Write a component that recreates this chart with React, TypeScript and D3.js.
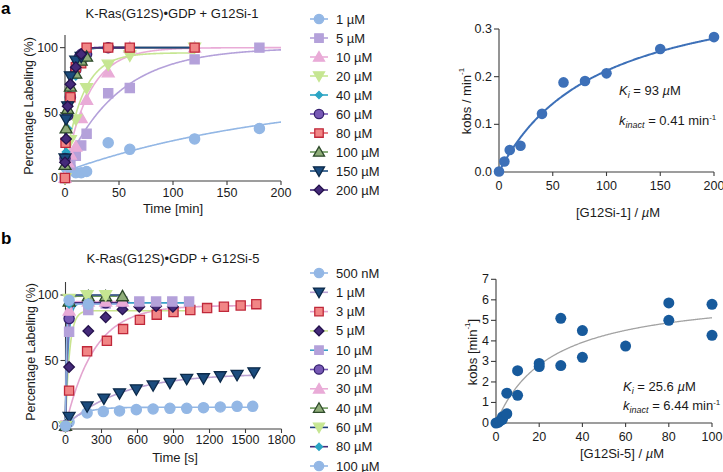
import React from 'react';
import * as d3 from 'd3';

const FONT = '"Liberation Sans", Arial, Helvetica, sans-serif';
const AX = '#3c3c3c';
const TXT = '#1a1a1a';

// ---------------- colours ----------------
const LB = '#93b7e5';
const LAV = '#b4a1da';
const PINK = '#e9abd7';
const LG = '#c6e692';
const TEAL = '#2aa4c4';
const PUR = '#7758b5';
const PURD = '#35216f';
const RED = '#f18686';
const REDD = '#c0283a';
const GRN = '#8fad79';
const GRND = '#2d4a2a';
const DB = '#1b4b7d';
const DBD = '#0c2a4a';
const DP = '#442a79';
const DPD = '#25124d';

// ---------------- Panel a (kinetics, min) ----------------
const aTimeTicks = [0, 50, 100, 150, 200];
const pctTicks = [0, 50, 100];
const aLegend = ['1 µM', '5 µM', '10 µM', '20 µM', '40 µM', '60 µM', '80 µM', '100 µM', '150 µM', '200 µM'];

const a1uM = [[0, 0], [1, 8], [2.5, 7], [5, 8], [10, 4], [15, 4], [20, 5], [40, 27], [60, 22], [120, 30], [180, 38]];
const a5uM = [[0, 0], [5, 10], [10, 17], [15, 25], [20, 34], [40, 65], [60, 69], [120, 91], [180, 100]];
const a10uM = [[0, 0], [2.5, 12], [5, 18], [10, 24], [15, 46], [20, 60], [40, 81], [60, 100], [120, 100]];
const a20uM = [[0, 0], [5, 29], [10, 45], [20, 69], [40, 87], [60, 94], [120, 100]];
const a40uM = [[0, 17], [1, 20], [2.5, 38], [5, 60], [10, 78], [15, 88], [20, 92], [40, 100], [60, 100]];
const a60uM = [[0, 15], [2.5, 48], [5, 62], [10, 83], [15, 92], [20, 95], [40, 100]];
const a80uM = [[0, 0], [0.5, 27], [5, 62], [10, 85], [15, 88], [20, 100], [40, 100], [60, 100], [120, 100]];
const a100uM = [[0, 10], [1, 38], [2.5, 53], [5, 70], [10, 80], [15, 90], [20, 93]];
const a150uM = [[0, 15], [1, 45], [2.5, 55], [5, 78], [10, 90], [15, 93]];
const a200uM = [[0, 12], [1, 30], [2.5, 55], [5, 72], [10, 85], [15, 95]];
const aSeries = [a1uM, a5uM, a10uM, a20uM, a40uM, a60uM, a80uM, a100uM, a150uM, a200uM];

// one-phase association fit parameters (y0, plateau, k, last time)
const aFitY0 = [5, 8, 5, 10, 15, 15, 20, 25, 30, 10];
const aFitPlateau = [65, 100, 100, 96, 100, 100, 100, 100, 100, 100];
const aFitRate = [0.005, 0.02, 0.045, 0.06, 0.18, 0.2, 0.2, 0.22, 0.25, 0.3];
const aFitEnd = [200, 200, 200, 120, 120, 60, 120, 60, 120, 60];

const aStyles = [
  { shape: 'circle', fill: LB, stroke: LB, line: LB },
  { shape: 'square', fill: LAV, stroke: LAV, line: LAV },
  { shape: 'triangle', fill: PINK, stroke: PINK, line: PINK },
  { shape: 'invtri', fill: LG, stroke: LG, line: LG },
  { shape: 'diamondSmall', fill: TEAL, stroke: TEAL, line: TEAL },
  { shape: 'circle', fill: PUR, stroke: PURD, line: PUR },
  { shape: 'square', fill: RED, stroke: REDD, line: '#e0606a' },
  { shape: 'triangle', fill: GRN, stroke: GRND, line: '#6f9a5e' },
  { shape: 'invtri', fill: DB, stroke: DBD, line: DB },
  { shape: 'diamond', fill: DP, stroke: DPD, line: DP },
];

// ---------------- Panel b (kinetics, s) ----------------
const bTimeTicks = [0, 300, 600, 900, 1200, 1500, 1800];
const bLegend = ['500 nM', '1 µM', '3 µM', '5 µM', '10 µM', '20 µM', '30 µM', '40 µM', '60 µM', '80 µM', '100 µM'];

const b500nM = [[0, 0], [30, 3], [180, 10], [315, 11], [450, 11.5], [590, 12.5], [730, 13], [870, 13.5], [1010, 13.5], [1150, 14], [1290, 14.5], [1430, 15], [1560, 15]];
const b1uM = [[0, 0], [30, 7], [180, 15], [320, 21], [450, 25], [590, 28], [730, 31], [870, 33], [1010, 36], [1150, 36.5], [1290, 38], [1430, 39], [1570, 41]];
const b3uM = [[0, 0], [30, 27], [180, 57], [345, 65], [480, 74], [620, 81], [760, 85], [900, 87], [1040, 88.5], [1180, 90], [1320, 91], [1460, 92], [1590, 93]];
const b5uM = [[0, 0], [30, 45], [190, 72.5], [335, 83], [475, 89], [615, 91], [755, 91.5], [895, 91]];
const b10uM = [[0, 0], [30, 72], [190, 88.5], [335, 93.5], [475, 95], [615, 95], [755, 95], [890, 95], [1030, 95]];
const b20uM = [[0, 0], [30, 82], [190, 94], [335, 94], [475, 94]];
const b30uM = [[0, 0], [30, 88], [190, 95], [335, 95], [475, 95]];
const b40uM = [[0, 0], [30, 95], [190, 99], [335, 99], [475, 99]];
const b60uM = [[0, 0], [30, 97], [180, 100], [335, 100]];
const b80uM = [[0, 0], [30, 93], [190, 94]];
const b100uM = [[0, 0], [30, 96], [190, 93]];
const bSeries = [b500nM, b1uM, b3uM, b5uM, b10uM, b20uM, b30uM, b40uM, b60uM, b80uM, b100uM];

const bFitPlateau = [14.3, 40, 92, 88, 94, 94, 95, 99, 100, 94, 93];
const bFitRate = [0.008, 0.0022, 0.0042, 0.03, 0.045, 0.06, 0.08, 0.1, 0.12, 0.1, 0.12];
const bFitEnd = [1560, 1570, 1590, 1030, 1030, 475, 475, 475, 475, 475, 475];

const bStyles = [
  { shape: 'circle', fill: LB, stroke: LB, line: LB },
  { shape: 'invtri', fill: DB, stroke: DBD, line: '#bca3d3' },
  { shape: 'square', fill: RED, stroke: REDD, line: '#e3a4cf' },
  { shape: 'diamond', fill: DP, stroke: DPD, line: '#c9e38e' },
  { shape: 'square', fill: LAV, stroke: LAV, line: '#3aa0c8' },
  { shape: 'circle', fill: PUR, stroke: PURD, line: PUR },
  { shape: 'triangle', fill: PINK, stroke: PINK, line: PINK },
  { shape: 'triangle', fill: GRN, stroke: GRND, line: '#6f9a5e' },
  { shape: 'invtri', fill: LG, stroke: LG, line: '#203f7c' },
  { shape: 'diamondSmall', fill: TEAL, stroke: TEAL, line: DP },
  { shape: 'circle', fill: LB, stroke: LB, line: LB },
];

// ---------------- kobs panels ----------------
const kA_conc = [0, 5, 10, 20, 40, 60, 80, 100, 150, 200];
const kA_kobs = [0.001, 0.022, 0.046, 0.055, 0.122, 0.188, 0.191, 0.207, 0.258, 0.283];
const kA_Ki = 93;
const kA_kinact = 0.41;
const kA_xTicks = [0, 50, 100, 150, 200];
const kA_yTicks = [0, 0.1, 0.2, 0.3];

const kB_conc = [0, 1, 2, 3, 3, 5, 5, 10, 10, 20, 20, 30, 30, 40, 40, 60, 80, 80, 100, 100];
const kB_kobs = [0, 0.03, 0.12, 0.3, 0.18, 0.45, 1.45, 1.35, 2.55, 2.9, 2.75, 5.1, 2.8, 4.5, 3.2, 3.75, 5.85, 5.0, 5.78, 4.27];
const kB_Ki = 25.6;
const kB_kinact = 6.44;
const kB_xTicks = [0, 20, 40, 60, 80, 100];
const kB_yTicks = [0, 1, 2, 3, 4, 5, 6, 7];

// ---------------- helpers ----------------
const SIZES: Record<string, number> = {
  circle: 82, square: 84, triangle: 62, invtri: 62, diamond: 56, diamondSmall: 30,
};

function Marker({ shape, x, y, fill, stroke, scale = 1 }: any) {
  const size = SIZES[shape] * scale;
  let sym: any = d3.symbolCircle;
  let rot = 0;
  if (shape === 'square') sym = d3.symbolSquare;
  if (shape === 'triangle') sym = d3.symbolTriangle;
  if (shape === 'invtri') { sym = d3.symbolTriangle; rot = 180; }
  if (shape === 'diamond' || shape === 'diamondSmall') { sym = d3.symbolSquare; rot = 45; }
  const d = d3.symbol(sym, size)() as string;
  const yoff = shape === 'triangle' ? 1 : shape === 'invtri' ? -1 : 0;
  return (
    <path d={d} transform={`translate(${x},${y + yoff}) rotate(${rot})`} fill={fill} stroke={stroke} strokeWidth={1.3} />
  );
}

function XAxis({ scale, ticks, y, fmt, labelDy = 12 }: any) {
  const r = scale.range();
  return (
    <g>
      <line x1={r[0]} x2={r[1]} y1={y} y2={y} stroke={AX} strokeWidth={1.1} />
      {ticks.map((t: number) => (
        <g key={t}>
          <line x1={scale(t)} x2={scale(t)} y1={y} y2={y + 4} stroke={AX} strokeWidth={1.1} />
          <text x={scale(t)} y={y + labelDy} textAnchor="middle" dominantBaseline="central" fontSize={12.5} fill={TXT}>{fmt(t)}</text>
        </g>
      ))}
    </g>
  );
}

function YAxis({ scale, ticks, x, y0, y1, fmt }: any) {
  return (
    <g>
      <line x1={x} x2={x} y1={y0} y2={y1} stroke={AX} strokeWidth={1.1} />
      {ticks.map((t: number) => (
        <g key={t}>
          <line x1={x - 5} x2={x} y1={scale(t)} y2={scale(t)} stroke={AX} strokeWidth={1.1} />
          <text x={x - 7} y={scale(t)} textAnchor="end" dominantBaseline="central" fontSize={12.5} fill={TXT}>{fmt(t)}</text>
        </g>
      ))}
    </g>
  );
}

function fitPath(xs: any, ys: any, y0: number, plateau: number, k: number, end: number) {
  const ts = d3.range(0, end + end / 300, end / 300);
  const line = d3.line<number>().x((t) => xs(t)).y((t) => ys(y0 + (plateau - y0) * (1 - Math.exp(-k * t))));
  return line(ts) as string;
}

function hyperPath(xs: any, ys: any, Ki: number, kinact: number, end: number) {
  const cs = d3.range(0, end + end / 300, end / 300);
  const line = d3.line<number>().x((c) => xs(c)).y((c) => ys((kinact * c) / (Ki + c)));
  return line(cs) as string;
}

function Legend({ labels, styles, y0, step }: any) {
  return (
    <g>
      {labels.map((lab: string, i: number) => {
        const y = y0 + i * step;
        const s = styles[i];
        return (
          <g key={lab}>
            <line x1={310} x2={328} y1={y} y2={y} stroke={s.line} strokeWidth={1.6} />
            <Marker shape={s.shape} x={319} y={y} fill={s.fill} stroke={s.stroke} scale={0.85} />
            <text x={336} y={y} dominantBaseline="central" fontSize={13} fill={TXT}>{lab}</text>
          </g>
        );
      })}
    </g>
  );
}

export default function App() {
  // panel a left
  const axS = d3.scaleLinear().domain([0, 200]).range([65, 281]);
  const ayS = d3.scaleLinear().domain([0, 110]).range([178, 34.6]);
  // panel b left
  const bxS = d3.scaleLinear().domain([0, 1800]).range([65.5, 281.5]);
  const byS = d3.scaleLinear().domain([0, 110]).range([426, 281.9]);
  // kobs a
  const kxA = d3.scaleLinear().domain([0, 200]).range([499, 714]);
  const kyA = d3.scaleLinear().domain([0, 0.3]).range([172, 29]);
  // kobs b
  const kxB = d3.scaleLinear().domain([0, 100]).range([496, 712]);
  const kyB = d3.scaleLinear().domain([0, 7]).range([423, 279.3]);

  return (
    <svg width={723} height={472} style={{ position: 'absolute', left: 0, top: 0, background: '#fff' }} fontFamily={FONT}>
      <rect x={0} y={0} width={723} height={472} fill="#fff" />
      {/* panel letters */}
      <text x={1} y={14} fontSize={17} fontWeight="bold" fill="#000">a</text>
      <text x={1} y={244} fontSize={17} fontWeight="bold" fill="#000">b</text>

      {/* ========== Panel a left ========== */}
      <text x={172} y={13} textAnchor="middle" dominantBaseline="central" fontSize={13} fill={TXT}>K-Ras(G12S)•GDP + G12Si-1</text>
      <YAxis scale={ayS} ticks={pctTicks} x={65} y0={35} y1={181} fmt={(t: number) => String(t)} />
      <XAxis scale={axS} ticks={aTimeTicks} y={181} fmt={(t: number) => String(t)} />
      <text transform="translate(29,106) rotate(-90)" textAnchor="middle" dominantBaseline="central" fontSize={12.5} fill={TXT}>Percentage Labeling (%)</text>
      <text x={173} y={208} textAnchor="middle" dominantBaseline="central" fontSize={13} fill={TXT}>Time [min]</text>
      {aSeries.map((_, i) => (
        <path key={'af' + i} d={fitPath(axS, ayS, aFitY0[i], aFitPlateau[i], aFitRate[i], aFitEnd[i])} fill="none" stroke={aStyles[i].line} strokeWidth={1.6} />
      ))}
      {aSeries.map((s, i) => (
        <g key={'am' + i}>
          {s.map((p, j) => (
            <Marker key={j} shape={aStyles[i].shape} x={axS(p[0])} y={ayS(p[1])} fill={aStyles[i].fill} stroke={aStyles[i].stroke} />
          ))}
        </g>
      ))}
      <Legend labels={aLegend} styles={aStyles} y0={19} step={19} />

      {/* ========== Panel a right ========== */}
      <YAxis scale={kyA} ticks={kA_yTicks} x={499} y0={29} y1={172} fmt={(t: number) => t.toFixed(1)} />
      <XAxis scale={kxA} ticks={kA_xTicks} y={172} fmt={(t: number) => String(t)} labelDy={14} />
      <path d={hyperPath(kxA, kyA, kA_Ki, kA_kinact, 200)} fill="none" stroke="#3d70b8" strokeWidth={2} />
      {kA_conc.map((c, i) => (
        <circle key={i} cx={kxA(c)} cy={kyA(kA_kobs[i])} r={5.3} fill="#3d70b8" />
      ))}
      <text transform="translate(466,101) rotate(-90)" textAnchor="middle" dominantBaseline="central" fontSize={13} fill={TXT}>
        kobs / min<tspan dy={-5} fontSize={8}>-1</tspan>
      </text>
      <text x={618} y={212} textAnchor="middle" dominantBaseline="central" fontSize={13} fill={TXT}>
        [G12Si-1] / <tspan fontStyle="italic">µ</tspan>M
      </text>
      <text x={619} y={95} fontSize={13} fill={TXT}>
        <tspan fontStyle="italic">K</tspan><tspan fontStyle="italic" fontSize={9} dy={3}>i</tspan><tspan dy={-3}> = 93 </tspan><tspan fontStyle="italic">µ</tspan>M
      </text>
      <text x={619} y={125} fontSize={13} fill={TXT}>
        <tspan fontStyle="italic">k</tspan><tspan fontStyle="italic" fontSize={9} dy={3}>inact</tspan><tspan dy={-3}> = 0.41 min</tspan><tspan dy={-5} fontSize={8}>-1</tspan>
      </text>

      {/* ========== Panel b left ========== */}
      <text x={173} y={258} textAnchor="middle" dominantBaseline="central" fontSize={13} fill={TXT}>K-Ras(G12S)•GDP + G12Si-5</text>
      <YAxis scale={byS} ticks={pctTicks} x={65.5} y0={282} y1={429} fmt={(t: number) => String(t)} />
      <XAxis scale={bxS} ticks={bTimeTicks} y={429} fmt={(t: number) => String(t)} labelDy={11} />
      <text transform="translate(31,352) rotate(-90)" textAnchor="middle" dominantBaseline="central" fontSize={12.5} fill={TXT}>Percentage Labeling (%)</text>
      <text x={175} y={457} textAnchor="middle" dominantBaseline="central" fontSize={13} fill={TXT}>Time [s]</text>
      {bSeries.map((_, i) => (
        <path key={'bf' + i} d={fitPath(bxS, byS, 0, bFitPlateau[i], bFitRate[i], bFitEnd[i])} fill="none" stroke={bStyles[i].line} strokeWidth={1.6} />
      ))}
      {bSeries.map((s, i) => (
        <g key={'bm' + i}>
          {s.map((p, j) => (
            <Marker key={j} shape={bStyles[i].shape} x={bxS(p[0])} y={byS(p[1])} fill={bStyles[i].fill} stroke={bStyles[i].stroke} />
          ))}
        </g>
      ))}
      <Legend labels={bLegend} styles={bStyles} y0={273} step={19.3} />

      {/* ========== Panel b right ========== */}
      <YAxis scale={kyB} ticks={kB_yTicks} x={496} y0={279.3} y1={423} fmt={(t: number) => String(t)} />
      <XAxis scale={kxB} ticks={kB_xTicks} y={423} fmt={(t: number) => String(t)} labelDy={14} />
      <path d={hyperPath(kxB, kyB, kB_Ki, kB_kinact, 100)} fill="none" stroke="#a3a3a3" strokeWidth={1.3} />
      {kB_conc.map((c, i) => (
        <circle key={i} cx={kxB(c)} cy={kyB(kB_kobs[i])} r={5.5} fill="#175a9c" />
      ))}
      <text transform="translate(472,352) rotate(-90)" textAnchor="middle" dominantBaseline="central" fontSize={13} fill={TXT}>
        kobs [min<tspan dy={-5} fontSize={8}>-1</tspan><tspan dy={5}>]</tspan>
      </text>
      <text x={622} y={453} textAnchor="middle" dominantBaseline="central" fontSize={13} fill={TXT}>
        [G12Si-5] / <tspan fontStyle="italic">µ</tspan>M
      </text>
      <text x={623} y={391} fontSize={13} fill={TXT}>
        <tspan fontStyle="italic">K</tspan><tspan fontStyle="italic" fontSize={9} dy={3}>i</tspan><tspan dy={-3}> = 25.6 </tspan><tspan fontStyle="italic">µ</tspan>M
      </text>
      <text x={623} y={410} fontSize={13} fill={TXT}>
        <tspan fontStyle="italic">k</tspan><tspan fontStyle="italic" fontSize={9} dy={3}>inact</tspan><tspan dy={-3}> = 6.44 min</tspan><tspan dy={-5} fontSize={8}>-1</tspan>
      </text>
    </svg>
  );
}
